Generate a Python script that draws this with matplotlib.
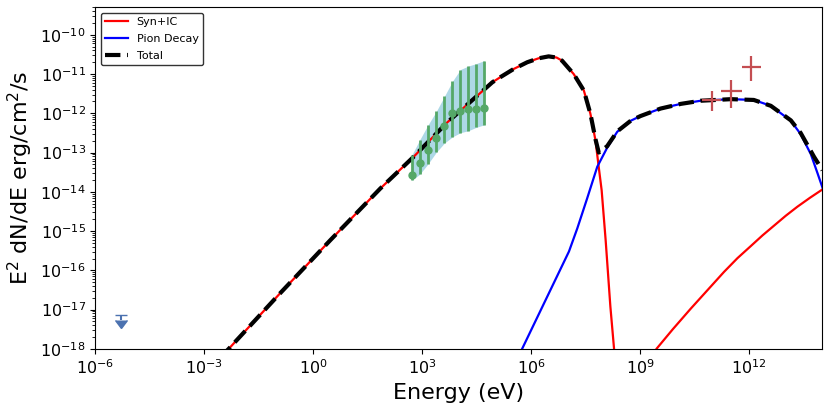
import numpy as np
import matplotlib
matplotlib.use("Agg")
import matplotlib.pyplot as plt

# model curves, log10(E/eV) and log10(E^2 dN/dE)
syn_loge = [-3.0, -2.31, -0.91, 0.47, 1.84, 2.76, 3.69, 4.93, 5.15, 5.52, 5.89, 6.2, 6.48,
            6.7, 6.85, 7.17, 7.45, 7.63, 7.77, 7.86, 7.94, 8.05, 8.18, 8.28, 8.32,
            9.3, 9.45, 9.9, 10.39, 10.85, 11.31, 11.68, 12.05, 12.37, 12.69, 13.01, 13.33, 13.68, 14.02]
syn_logf = [-18.65, -17.98, -16.58, -15.23, -13.92, -13.11, -12.23, -11.21, -11.08, -10.87, -10.70, -10.60, -10.55,
            -10.58, -10.66, -11.0, -11.42, -12.01, -12.69, -13.37, -13.96, -15.23, -16.92, -17.98, -18.6,
            -18.3, -18.0, -17.5, -16.98, -16.51, -16.04, -15.69, -15.38, -15.11, -14.86, -14.61, -14.38, -14.15, -13.94]

pion_loge = [5.6, 5.75, 7.04, 7.27, 7.54, 7.82, 8.09, 8.37, 8.74, 9.01, 9.56, 10.12,
             10.67, 11.5, 12.13, 12.6, 13.15, 13.42, 13.7, 13.89, 14.02]
pion_logf = [-18.29, -18.0, -15.52, -14.93, -14.17, -13.36, -12.88, -12.47, -12.19, -12.07, -11.88, -11.76,
             -11.68, -11.64, -11.66, -11.81, -12.19, -12.53, -13.04, -13.54, -13.89]

tot_loge = [-3.0, -2.31, -0.91, 0.47, 1.84, 2.76, 3.69, 4.93, 5.15, 5.52, 5.89, 6.2, 6.48,
            6.7, 6.85, 7.17, 7.45, 7.63, 7.77, 7.86, 8.09, 8.37, 8.74, 9.01, 9.56, 10.12,
            10.67, 11.5, 12.13, 12.6, 13.15, 13.42, 13.79, 14.02]
tot_logf = [-18.65, -17.98, -16.58, -15.23, -13.92, -13.11, -12.23, -11.21, -11.08, -10.87, -10.70, -10.60, -10.55,
            -10.58, -10.66, -11.0, -11.42, -12.01, -12.66, -13.0, -12.84, -12.46, -12.19, -12.07, -11.88, -11.76,
            -11.68, -11.64, -11.66, -11.81, -12.18, -12.5, -13.11, -13.45]

# X-ray points with butterfly
xray_e = [510, 850, 1410, 2440, 4060, 6750, 11200, 18600, 30900, 51300]
xray_f = [2.75e-14, 5.4e-14, 1.14e-13, 2.4e-13, 4.8e-13, 1.0e-12, 1.17e-12, 1.25e-12, 1.3e-12, 1.34e-12]
xray_hi = [8.5e-14, 2.1e-13, 4.9e-13, 1.12e-12, 2.7e-12, 6.5e-12, 1.3e-11, 1.6e-11, 1.85e-11, 2.2e-11]
xray_lo = [1.95e-14, 2.8e-14, 5.0e-14, 1.02e-13, 1.74e-13, 2.5e-13, 3.2e-13, 3.6e-13, 4.4e-13, 5.1e-13]

# TeV points
tev_e = [9.8e10, 3.2e11, 1.1e12]
tev_elo = [5.1e10, 1.74e11, 6.2e11]
tev_ehi = [1.74e11, 6.3e11, 2.1e12]
tev_f = [2.2e-12, 3.6e-12, 1.55e-11]
tev_lo = [1.17e-12, 1.38e-12, 6.5e-12]
tev_hi = [3.8e-12, 7.2e-12, 2.8e-11]

# radio upper limit
ul_e = [5.0e-6]
ul_f = [7.1e-18]
ul_lo = [5.3e-18]

fig = plt.figure(figsize=(8.3, 4.08), dpi=100)
ax = fig.add_subplot(111)
fig.subplots_adjust(left=0.115, right=0.99, bottom=0.145, top=0.982)

ax.plot(10**np.array(syn_loge), 10**np.array(syn_logf), color='r', lw=1.6, label='Syn+IC')
ax.plot(10**np.array(pion_loge), 10**np.array(pion_logf), color='b', lw=1.6, label='Pion Decay')
ax.plot(10**np.array(tot_loge), 10**np.array(tot_logf), 'k--', lw=3, label='Total')

xe = np.array(xray_e)
xf = np.array(xray_f)
ax.fill_between(xe, xray_lo, xray_hi, color='lightblue', lw=0)
ax.errorbar(xe, xf, yerr=[xf - np.array(xray_lo), np.array(xray_hi) - xf],
            fmt='o', ms=5, color='#55a868', elinewidth=2)

te = np.array(tev_e)
tf = np.array(tev_f)
ax.errorbar(te, tf, xerr=[te - np.array(tev_elo), np.array(tev_ehi) - te],
            yerr=[tf - np.array(tev_lo), np.array(tev_hi) - tf],
            fmt='none', color='#c44e52', elinewidth=1.6)

uf = np.array(ul_f)
ax.errorbar(ul_e, uf, yerr=uf - np.array(ul_lo), uplims=True, fmt='none',
            color='#4c72b0', capsize=4, elinewidth=1.5)

ax.set_xscale('log')
ax.set_yscale('log')
ax.set_xlim(1e-6, 1e14)
ax.set_ylim(1e-18, 5e-10)
ax.set_xlabel('Energy (eV)', fontsize=16)
ax.set_ylabel('E$^2$ dN/dE erg/cm$^2$/s', fontsize=16)
ax.tick_params(labelsize=11.5)
ax.legend(loc='upper left', fontsize=8, edgecolor='black', labelspacing=0.6)

fig.savefig('out.png', dpi=100)
